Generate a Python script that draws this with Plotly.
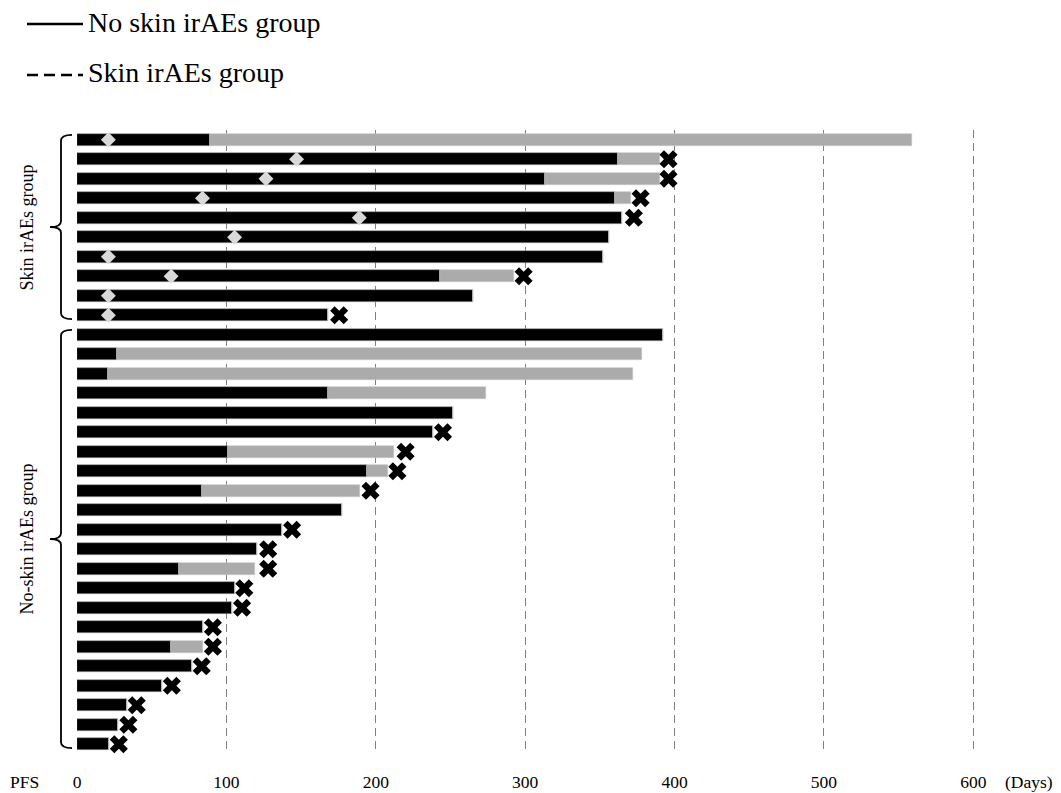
import plotly.graph_objects as go

# ---------------- data ----------------
patient_ids = ["S1", "S2", "S3", "S4", "S5", "S6", "S7", "S8", "S9", "S10",
               "N1", "N2", "N3", "N4", "N5", "N6", "N7", "N8", "N9", "N10", "N11",
               "N12", "N13", "N14", "N15", "N16", "N17", "N18", "N19", "N20", "N21", "N22"]
group = ["skin"] * 10 + ["noskin"] * 22
# black segment end (days)
treat_days = [89, 362, 313, 360, 365, 356, 352, 243, 265, 168,
              392.5, 26.5, 20.5, 168, 251.5, 238, 101, 194, 84, 177.5, 137,
              120.5, 68, 105.5, 103.7, 84.3, 62.7, 76.8, 57, 33.5, 27.4, 21.4]
# total bar end incl. grey segment (days)
pfs_days = [559, 390, 390, 371, 365, 356, 352, 292.4, 265, 168,
            392.5, 378, 372, 274, 251.5, 238, 212.5, 208.5, 189.5, 177.5, 137,
            120.5, 119, 105.5, 103.7, 84.3, 84.3, 76.8, 57, 33.5, 27.4, 21.4]
# skin irAE onset (diamond)
irae_day = [21, 147, 126.5, 84, 189, 105.5, 21, 63, 21, 21] + [None] * 22
# progression / event marker (X)
event_day = [None, 396, 396, 377.3, 372.8, None, None, 299, None, 175.5,
             None, None, None, None, None, 245, 220, 214.5, 196.5, None, 144,
             128, 128, 112, 110.5, 91, 91, 83.5, 63.5, 40, 34.4, 28]

x_ticks = [0, 100, 200, 300, 400, 500, 600]
legend_labels = ["No skin irAEs group", "Skin irAEs group"]
group_labels = {"skin": "Skin irAEs group", "noskin": "No-skin irAEs group"}

FONT = "Liberation Serif, Times New Roman, serif"
BLACK = "#000000"
GREY = "#ababab"
LIGHT = "#d9d9d9"

ypos = list(range(len(patient_ids)))

fig = go.Figure()

# black segment
fig.add_trace(go.Bar(
    orientation="h", y=ypos, x=treat_days, base=0,
    marker=dict(color=BLACK, line=dict(color="#9a9a9a", width=0.6)),
    width=0.63, hoverinfo="skip", showlegend=False))

# grey continuation
grey_len = [p - t for p, t in zip(pfs_days, treat_days)]
fig.add_trace(go.Bar(
    orientation="h", y=ypos, x=grey_len, base=treat_days,
    marker=dict(color=GREY, line=dict(color="#c8c8c8", width=0.6)),
    width=0.63, hoverinfo="skip", showlegend=False))

# diamonds
fig.add_trace(go.Scatter(
    x=irae_day, y=ypos, mode="markers",
    marker=dict(symbol="diamond", size=11.5, color=LIGHT, line=dict(width=0)),
    hoverinfo="skip", showlegend=False))

# X markers
fig.add_trace(go.Scatter(
    x=event_day, y=ypos, mode="markers",
    marker=dict(symbol="x", size=16, color=BLACK, line=dict(width=0)),
    hoverinfo="skip", showlegend=False))

L, R, T, B = 77, 28, 130, 39
W, H = 1061, 793
pw, ph = W - L - R, H - T - B


def px_x(X):
    return (X - L) / pw


def px_y(Y):
    return (H - B - Y) / ph


shapes = []
annotations = []

# legend (manual)
leg_y = [24, 75]
leg_text_y = [23, 72]
dashes = ["solid", "11px,6px"]
for lab, ly, ty, d in zip(legend_labels, leg_y, leg_text_y, dashes):
    shapes.append(dict(type="line", xref="paper", yref="paper",
                       x0=px_x(27), x1=px_x(83), y0=px_y(ly), y1=px_y(ly),
                       line=dict(color=BLACK, width=2.5, dash=d)))
    annotations.append(dict(text=lab, xref="paper", yref="paper",
                            x=px_x(86), y=px_y(ty), xanchor="left", yanchor="middle",
                            showarrow=False, font=dict(family=FONT, size=28, color=BLACK)))

# braces + rotated group labels
for g in ["skin", "noskin"]:
    idx = [i for i, gg in enumerate(group) if gg == g]
    top, bot = idx[0] - 0.25, idx[-1] + 0.2
    mid = (top + bot) / 2
    hx, vx, tx = px_x(72), px_x(61), px_x(50)
    d = 0.3
    path = (f"M{hx},{top} Q{vx},{top} {vx},{top + d} L{vx},{mid - d} "
            f"Q{vx},{mid} {tx},{mid} Q{vx},{mid} {vx},{mid + d} "
            f"L{vx},{bot - d} Q{vx},{bot} {hx},{bot}")
    shapes.append(dict(type="path", xref="paper", yref="y", path=path,
                       line=dict(color=BLACK, width=1.8), layer="above"))
    annotations.append(dict(text=group_labels[g], xref="paper", yref="y",
                            x=px_x(26), y=(idx[0] + idx[-1]) / 2, textangle=-90,
                            xanchor="center", yanchor="middle", showarrow=False,
                            font=dict(family=FONT, size=18, color=BLACK)))

# axis end labels
annotations.append(dict(text="PFS", xref="paper", yref="paper", x=px_x(24.5), y=px_y(782),
                        xanchor="center", yanchor="middle", showarrow=False,
                        font=dict(family=FONT, size=17.5, color=BLACK)))
annotations.append(dict(text="(Days)", xref="paper", yref="paper", x=px_x(1029), y=px_y(782),
                        xanchor="center", yanchor="middle", showarrow=False,
                        font=dict(family=FONT, size=17.5, color=BLACK)))

fig.update_layout(
    width=W, height=H,
    margin=dict(l=L, r=R, t=T, b=B, pad=0, autoexpand=False),
    paper_bgcolor="white", plot_bgcolor="white",
    barmode="overlay", bargap=0,
    showlegend=False,
    shapes=shapes, annotations=annotations,
    font=dict(family=FONT, color=BLACK),
    xaxis=dict(range=[0, 640], tickvals=x_ticks, ticktext=[str(v) for v in x_ticks],
               showgrid=True, gridcolor="#808080", gridwidth=1.4, griddash="8px,5px",
               zeroline=False, showline=False, ticks="", ticklabelstandoff=15,
               automargin=False,
               tickfont=dict(family=FONT, size=17.5, color=BLACK), fixedrange=True),
    yaxis=dict(range=[len(patient_ids) - 0.5, -0.5], showgrid=False, zeroline=False,
               showticklabels=False, ticks="", showline=False, fixedrange=True,
               automargin=False),
)

fig.write_html("out.html", config={"displayModeBar": False})
